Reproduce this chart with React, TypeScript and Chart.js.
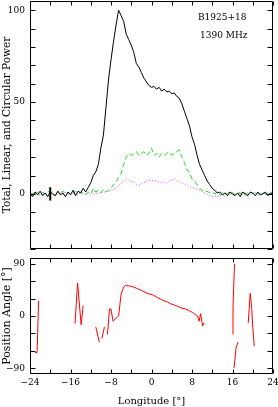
import React, { useEffect, useRef } from "react";
import { Chart, registerables } from "chart.js";

Chart.register(...registerables);

// ---------- data ----------
const LON_START = -24;
const LON_STEP = 0.5;

const totalPower = [
  0.5, -1.5, 1, -0.5, 1.5, -1, 0.5, -1.5, 1, 0, -1, 1.5, -0.5, 0.5, -1.5, 1, -0.5, 2, -1, 1.5, 0.5, 3, 1, 3.5,
  6, 10, 12, 16, 25, 32, 47, 62, 73, 83, 92, 100, 97, 94, 87, 84, 81, 77, 71, 69, 66, 63, 61, 59,
  58, 58.5, 57, 58, 56, 57, 55.5, 56, 54.5, 55, 53, 52, 49, 45, 41, 37, 31, 27, 21, 16, 13, 10, 7, 5,
  3, 2, 0.5, 1, -0.5, 0.5, -1, 1, 0, -1, 0.5, -1.5, 1, 0, -1, 1, 0.5, -1, 1, -0.5, 0, 1, -1, 0.5, -0.5,
];

const linearPower = [
  1, 0, 1.5, 0.5, -0.5, 1, 0, 1.5, 0.5, 1, -0.5, 1, 0.5, 1.5, 0, 1, -0.5, 0.5, 1.5, 0, 1, 0.5, -0.5, 1,
  0, 3, 1, 2, 0.5, 2.5, 1, 2, 3, 5, 6, 9, 11, 16, 20, 22, 21, 22, 23, 21, 22, 23, 21, 22,
  25, 21, 22, 20, 22, 21, 22, 23, 21, 22, 23, 24, 20, 17, 13, 12, 8, 7, 5, 3, 2, 1, 1.5, 0.5,
  1, 0, 1, -0.5, 0.5, 1, 0, 1.5, 0.5, -0.5, 1, 0, 1, 0.5, -0.5, 1, 0, 1, 0.5, -0.5, 1, 0, 0.5, 1, 0,
];

const circularPower = [
  0.5, -0.5, 0, 1, -1, 0.5, 0, -0.5, 1, 0, -1, 0.5, 0, -0.5, 1, 0, -0.5, 0.5, -1, 0, 0.5, -0.5, 0, 0.5,
  -0.5, 0, 0.5, 0, 1, 0.5, 1.5, 1, 2, 2.5, 3, 4.5, 6, 7, 8, 7.5, 7, 6.5, 5, 4.5, 5.5, 6, 7, 7.5,
  7, 7.5, 7, 6.5, 6, 6.5, 6, 7, 7.5, 8, 7, 6.5, 6, 5.5, 5, 4, 3.5, 3, 2.5, 2, 1, 0.5, 0, -1,
  -1.5, -1, -1.5, -1, -0.5, -1, 0, -0.5, 0.5, -0.5, 0, 0.5, -0.5, 0, 0.5, -0.5, 0, 0.5, -0.5, 0, 0.5, -0.5, 0, 0.5, 0,
];

// error bar on the total-power baseline
const errLon = [-20, -20];
const errVal = [-3.6, 3.6];

// position angle (null = gap)
const paLon = [
  -23, -22.6, -22.3, null,
  -15.1, -14.6, -13.9, -13.5, null,
  -11, -10.3, null,
  -9.8, -9.3, null,
  -8.7, -8.3, -8.0, -7.6, -7.3, -6.9, -6.5, -6.0, -5.5, -5.0, -4.5, -3.9, -3.0, -2.2, -1.5, -0.9, 0.1, 0.6, 1.1,
  1.8, 2.5, 3.2, 3.8, 4.5, 5.1, 5.8, 6.8, 7.5, 8.1, 8.6, 9.1, 9.4, 9.7, 10.1, 10.4, null,
  16.1, 16.1, 16.4, null,
  16.3, 16.7, 17.1, null,
  19.1, 19.5, 19.8, 20.0, 20.3,
];
const paDeg = [
  -63, -63, 26, null,
  -13, 57, -15, 18, null,
  -19, -45, null,
  -39, -19, null,
  -32, 12, 12, -9, -6, -3, 0, 38, 50, 53, 52, 51, 48, 45, 42, 39, 37, 35, 32,
  29, 26, 24, 21, 19, 17, 14, 12, 9, 6, 3, 0, -9, 4, -17, -12, null,
  -32, 16, 90, null,
  -90, -55, -45, null,
  -12, 39, 13, -19, -52,
];

const xTicks = [-24, -16, -8, 0, 8, 16, 24];
const xMinor = [-24, -20, -16, -12, -8, -4, 0, 4, 8, 12, 16, 20, 24];
const powerTicks = [0, 50, 100];
const powerMinor = [-30, -20, -10, 0, 10, 20, 30, 40, 50, 60, 70, 80, 90, 100];
const paTicks = [-90, 0, 90];
const paMinor = [-90, -60, -30, 0, 30, 60, 90];

const sourceName = "B1925+18";
const frequency = "1390 MHz";

// ---------- helpers ----------
const FONT = "'DejaVu Serif', serif";

const profilePoints = (vals: number[]) =>
  vals.map((v, i) => ({ x: LON_START + i * LON_STEP, y: v }));

const paPoints = () => {
  let last = 0;
  return paLon.map((l, i) => {
    if (l !== null) last = l as number;
    return { x: last, y: paDeg[i] };
  });
};

const minusFmt = (v: number | string) => String(v).replace("-", "\u2212");

const frameTicksPlugin = (xm: number[], ym: number[], labels?: string[]) => ({
  id: "frameTicks",
  afterDatasetsDraw(chart: any) {
    const { ctx, chartArea: a, scales } = chart;
    const L = a.left + 0.5;
    const R = a.right - 0.5;
    const T = a.top + 0.5;
    const B = a.bottom - 0.5;
    ctx.save();
    ctx.strokeStyle = "#000";
    ctx.lineWidth = 1;
    ctx.beginPath();
    ctx.rect(L, T, R - L, B - T);
    const tl = 4;
    xm.forEach((v) => {
      const px = Math.round(scales.x.getPixelForValue(v)) + 0.5;
      ctx.moveTo(px, B);
      ctx.lineTo(px, B - tl);
      ctx.moveTo(px, T);
      ctx.lineTo(px, T + tl);
    });
    ym.forEach((v) => {
      const py = Math.round(scales.y.getPixelForValue(v)) + 0.5;
      ctx.moveTo(L, py);
      ctx.lineTo(L + tl + 1, py);
      ctx.moveTo(R, py);
      ctx.lineTo(R - tl - 1, py);
    });
    ctx.stroke();
    if (labels) {
      ctx.fillStyle = "#000";
      ctx.font = "9px " + FONT;
      ctx.textAlign = "left";
      ctx.textBaseline = "middle";
      ctx.fillText(labels[0], a.left + 168, a.top + 17);
      ctx.fillText(labels[1], a.left + 170, a.top + 35);
    }
    ctx.restore();
  },
});

const lineDs = (data: any[], color: string, extra: any = {}) => ({
  data,
  borderColor: color,
  borderWidth: 1,
  pointRadius: 0,
  tension: 0,
  fill: false,
  spanGaps: false,
  ...extra,
});

export default function App() {
  const topRef = useRef<HTMLCanvasElement>(null);
  const botRef = useRef<HTMLCanvasElement>(null);

  useEffect(() => {
    document.body.style.margin = "0";
    Chart.defaults.font.family = FONT;
    Chart.defaults.font.size = 9;
    Chart.defaults.color = "#000";

    const xScale = (showLabels: boolean, height: number) => ({
      type: "linear" as const,
      min: -24,
      max: 24,
      grid: { display: false, drawTicks: false },
      border: { display: false },
      afterBuildTicks: (s: any) => {
        s.ticks = xTicks.map((v) => ({ value: v }));
      },
      afterFit: (s: any) => {
        s.height = height;
        s.paddingLeft = 0;
        s.paddingRight = 0;
      },
      ticks: {
        display: showLabels,
        padding: 3,
        maxRotation: 0,
        autoSkip: false,
        callback: (v: any) => minusFmt(v),
        font: { size: 9, family: FONT },
      },
      title: showLabels
        ? {
            display: true,
            text: "Longitude [\u00b0]",
            font: { size: 10, family: FONT },
            padding: { top: 0, bottom: 0 },
          }
        : { display: false },
    });

    const yScale = (
      min: number,
      max: number,
      ticks: number[],
      title: string,
      titleSize: number
    ) => ({
      type: "linear" as const,
      min,
      max,
      grid: { display: false, drawTicks: false },
      border: { display: false },
      afterBuildTicks: (s: any) => {
        s.ticks = ticks.map((v) => ({ value: v }));
      },
      afterFit: (s: any) => {
        s.width = 30;
        s.paddingTop = 0;
        s.paddingBottom = 0;
      },
      ticks: { padding: 5, callback: (v: any) => minusFmt(v) },
      title: {
        display: true,
        text: title,
        font: { size: titleSize, family: FONT },
        padding: { top: 1, bottom: 0 },
      },
    });

    const top = new Chart(topRef.current!, {
      type: "line",
      data: {
        datasets: [
          lineDs(
            errLon.map((x, i) => ({ x, y: errVal[i] })),
            "#000",
            { borderWidth: 2 }
          ),
          lineDs(profilePoints(totalPower), "#000"),
          lineDs(profilePoints(linearPower), "#22dd22", { borderDash: [5, 3] }),
          lineDs(profilePoints(circularPower), "#ee33ee", { borderDash: [1, 2] }),
        ],
      },
      options: {
        animation: false,
        responsive: false,
        events: [],
        layout: { padding: { top: 1, right: 5, left: 0, bottom: 0 } },
        plugins: { legend: { display: false }, tooltip: { enabled: false } },
        scales: {
          x: xScale(false, 3),
          y: yScale(-30, 105, powerTicks, "Total, Linear, and Circular Power", 10.5),
        },
      },
      plugins: [frameTicksPlugin(xMinor, powerMinor, [sourceName, frequency])],
    } as any);

    const bot = new Chart(botRef.current!, {
      type: "line",
      data: {
        datasets: [lineDs(paPoints(), "#ff0000")],
      },
      options: {
        animation: false,
        responsive: false,
        events: [],
        layout: { padding: { top: 6, right: 5, left: 0, bottom: 0 } },
        plugins: { legend: { display: false }, tooltip: { enabled: false } },
        scales: {
          x: xScale(true, 33),
          y: yScale(-100, 100, paTicks, "Position Angle [\u00b0]", 11),
        },
      },
      plugins: [frameTicksPlugin(xMinor, paMinor)],
    } as any);

    return () => {
      top.destroy();
      bot.destroy();
    };
  }, []);

  return (
    <div style={{ position: "relative", width: 278, height: 407, background: "#fff" }}>
      <canvas
        ref={topRef}
        width={278}
        height={252}
        style={{ position: "absolute", left: 0, top: 0, width: 278, height: 252 }}
      />
      <canvas
        ref={botRef}
        width={278}
        height={155}
        style={{ position: "absolute", left: 0, top: 252, width: 278, height: 155 }}
      />
    </div>
  );
}
